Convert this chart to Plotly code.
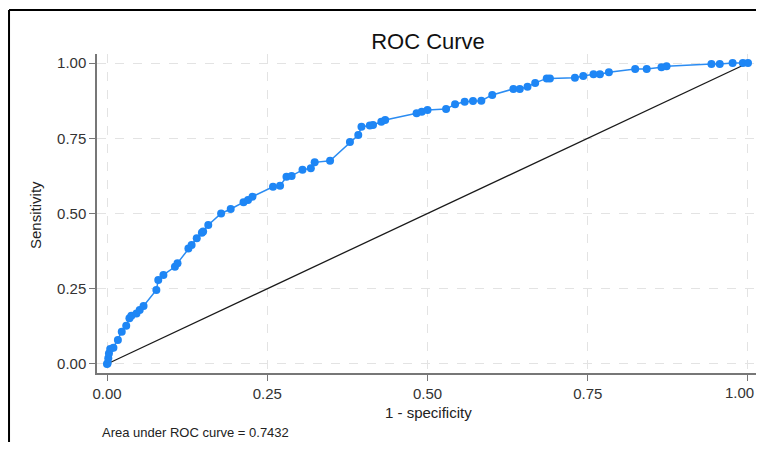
import plotly.graph_objects as go

# ROC points
fpr = [0.0, 0.001, 0.002, 0.003, 0.005, 0.010, 0.017, 0.023, 0.030, 0.035, 0.038, 0.046, 0.051, 0.057,
       0.077, 0.080, 0.088, 0.106, 0.110, 0.127, 0.132, 0.140, 0.148, 0.150, 0.158, 0.178, 0.193,
       0.213, 0.220, 0.227, 0.259, 0.270, 0.280, 0.288, 0.305, 0.318, 0.324, 0.348, 0.379, 0.392,
       0.397, 0.410, 0.415, 0.428, 0.434, 0.483, 0.491, 0.500, 0.529, 0.543, 0.558, 0.571, 0.584,
       0.601, 0.634, 0.644, 0.656, 0.668, 0.686, 0.691, 0.730, 0.743, 0.759, 0.769, 0.783, 0.824,
       0.842, 0.865, 0.873, 0.943, 0.956, 0.976, 0.992, 1.0]
tpr = [0.0, 0.002, 0.019, 0.035, 0.050, 0.054, 0.080, 0.107, 0.127, 0.152, 0.160, 0.168, 0.179, 0.193,
       0.246, 0.279, 0.296, 0.323, 0.335, 0.384, 0.395, 0.418, 0.436, 0.440, 0.462, 0.500, 0.515,
       0.537, 0.545, 0.556, 0.589, 0.592, 0.622, 0.625, 0.645, 0.650, 0.670, 0.675, 0.738, 0.761,
       0.788, 0.792, 0.794, 0.805, 0.811, 0.833, 0.838, 0.844, 0.847, 0.863, 0.871, 0.874, 0.875,
       0.894, 0.914, 0.914, 0.921, 0.934, 0.949, 0.949, 0.951, 0.957, 0.963, 0.963, 0.969, 0.980,
       0.980, 0.986, 0.989, 0.997, 0.997, 1.0, 1.0, 1.0]
ref_line = [0.0, 1.0]
ticks = [0, 0.25, 0.5, 0.75, 1.0]
tick_text = ["0.00", "0.25", "0.50", "0.75", "1.00"]
auc_text = "Area under ROC curve = 0.7432"

font = "Liberation Sans, Arial, sans-serif"
fig = go.Figure()
fig.add_trace(go.Scatter(x=ref_line, y=ref_line, mode="lines",
                         line=dict(color="#1a1a1a", width=1.3), showlegend=False, hoverinfo="skip"))
fig.add_trace(go.Scatter(x=fpr, y=tpr, mode="lines+markers",
                         line=dict(color="#2b8cf2", width=1.5),
                         marker=dict(color="#1e86f5", size=8), showlegend=False))

tick_font = dict(family=font, size=15, color="#333333")
axis_common = dict(
    tickvals=ticks, ticktext=tick_text, showgrid=True, gridcolor="#e3e3e3", griddash="dash",
    gridwidth=1, zeroline=False, showline=True, linecolor="#777777", linewidth=1.5,
    ticks="outside", ticklen=6, tickcolor="#777777", tickwidth=1.2,
    tickfont=tick_font,
)
fig.update_xaxes(range=[-0.0156, 1.0125], **axis_common)
fig.update_yaxes(range=[-0.03, 1.03], **axis_common)

fig.update_layout(
    width=748, height=434,
    margin=dict(l=89, r=0, t=46, b=69),
    paper_bgcolor="white", plot_bgcolor="white",
    title=dict(text="ROC Curve", xref="paper", x=0.5023, xanchor="center", y=0.9228, yanchor="middle",
               font=dict(family=font, size=22, color="#111111")),
    annotations=[
        # last x tick label (the axis hides it because it runs past the page edge)
        dict(text=tick_text[-1], xref="paper", yref="paper", x=1.0, y=-0.0596,
             xanchor="right", yanchor="middle", showarrow=False, font=tick_font),
        dict(text="1 - specificity", xref="paper", yref="paper", x=0.5023, y=-0.1223,
             xanchor="center", yanchor="middle", showarrow=False,
             font=dict(family=font, size=15, color="#222222")),
        dict(text="Sensitivity", xref="paper", yref="paper", x=-0.0926, y=0.4953, textangle=-90,
             xanchor="center", yanchor="middle", showarrow=False,
             font=dict(family=font, size=15, color="#222222")),
        dict(text=auc_text, xref="paper", yref="paper", x=0.00455, y=-0.185,
             xanchor="left", yanchor="middle", showarrow=False,
             font=dict(family=font, size=13, color="#222222")),
    ],
    shapes=[
        dict(type="line", xref="paper", yref="paper", x0=-0.1335, x1=1.0, y0=1.1379, y1=1.1379,
             line=dict(color="black", width=2)),
        dict(type="line", xref="paper", yref="paper", x0=-0.1335, x1=-0.1335, y0=-0.2163, y1=1.1379,
             line=dict(color="black", width=2)),
    ],
)
fig.write_html("out.html")
